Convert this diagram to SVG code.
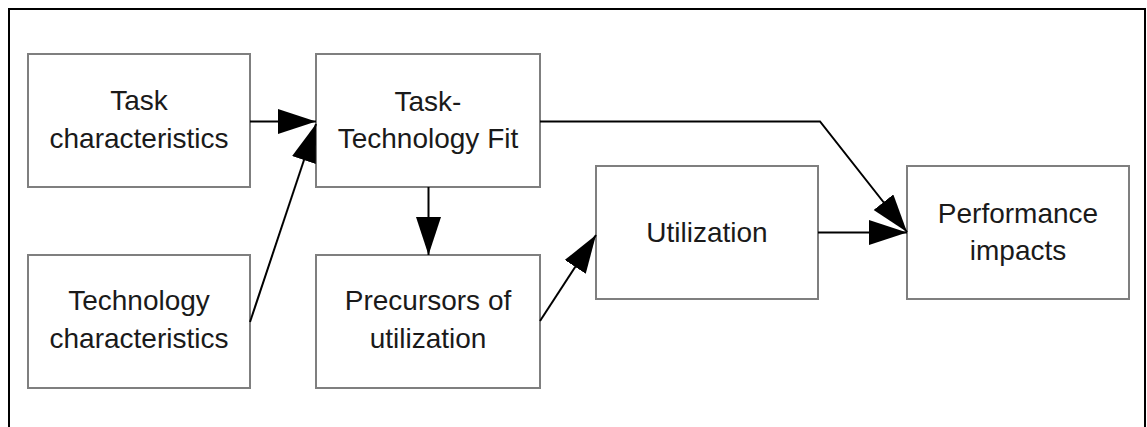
<svg xmlns="http://www.w3.org/2000/svg" width="1147" height="427" viewBox="0 0 1147 427">
<style>
.box{fill:#fff;stroke:#7f7f7f;stroke-width:2}
.lbl{font-family:"Liberation Sans",Arial,sans-serif;font-size:28px;fill:#1a1a1a;text-anchor:middle}
.conn{fill:none;stroke:#000;stroke-width:2}
</style>
<defs>
<marker id="arr" markerUnits="userSpaceOnUse" markerWidth="40" markerHeight="26" refX="38" refY="12.5" orient="auto">
<path d="M0,0 L38,12.5 L0,25 Z" fill="#000"/>
</marker>
</defs>
<rect width="1147" height="427" fill="#fff"/>
<path d="M9,440 V9 H1145 V440" fill="none" stroke="#000" stroke-width="2"/>
<g id="task">
<rect class="box" x="28" y="54" width="222" height="133"/>
<text class="lbl" x="139" y="110">Task</text>
<text class="lbl" x="139" y="148">characteristics</text>
</g>
<g id="technology">
<rect class="box" x="28" y="255" width="222" height="133"/>
<text class="lbl" x="139" y="310">Technology</text>
<text class="lbl" x="139" y="348">characteristics</text>
</g>
<g id="ttf">
<rect class="box" x="316" y="54" width="224" height="133"/>
<text class="lbl" x="428" y="111">Task-</text>
<text class="lbl" x="428" y="148">Technology Fit</text>
</g>
<g id="precursors">
<rect class="box" x="316" y="255" width="224" height="133"/>
<text class="lbl" x="428" y="310">Precursors of</text>
<text class="lbl" x="428" y="348">utilization</text>
</g>
<g id="utilization">
<rect class="box" x="596" y="166" width="222" height="133"/>
<text class="lbl" x="707" y="242">Utilization</text>
</g>
<g id="performance">
<rect class="box" x="907" y="166" width="222" height="133"/>
<text class="lbl" x="1018" y="223">Performance</text>
<text class="lbl" x="1018" y="260">impacts</text>
</g>
<g id="connectors">
<path class="conn" d="M250,121.5 H316" marker-end="url(#arr)"/>
<path class="conn" d="M250,322 L316,124" marker-end="url(#arr)"/>
<path class="conn" d="M428.5,187 V255" marker-end="url(#arr)"/>
<path class="conn" d="M540,321 L596,235" marker-end="url(#arr)"/>
<path class="conn" d="M540,121.5 H820 L907,232" marker-end="url(#arr)"/>
<path class="conn" d="M818,232.5 H907" marker-end="url(#arr)"/>
</g>
</svg>
